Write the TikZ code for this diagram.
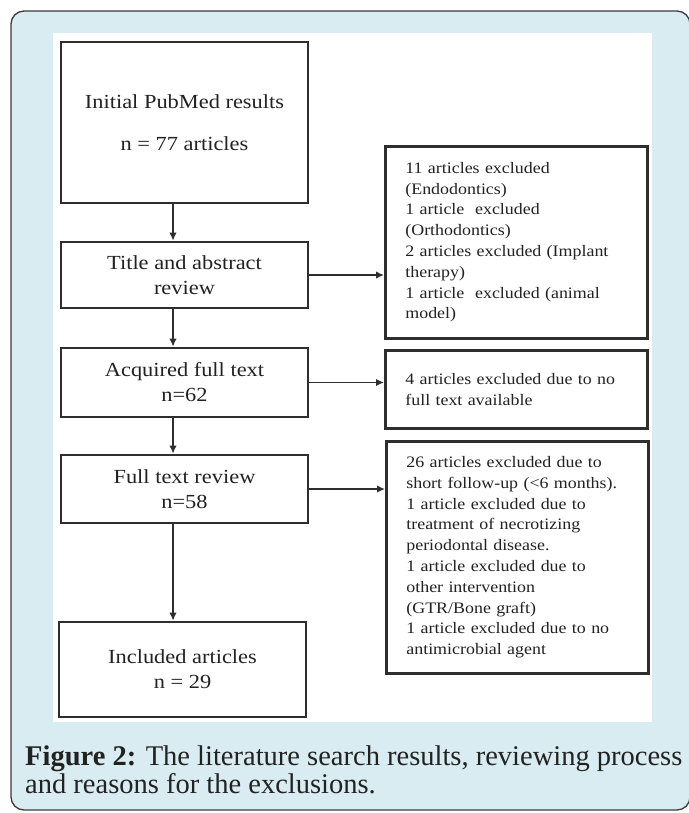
\documentclass[tikz,border=0pt]{standalone}
\usepackage{fontspec}
\usepackage{tikz}
\usetikzlibrary{arrows.meta}
\setmainfont{Liberation Serif}
\newfontfamily\boxfont[FakeStretch=1.12]{Liberation Serif}
\definecolor{framebg}{HTML}{D8ECF1}
\definecolor{framegray}{HTML}{3C3C3C}
\definecolor{boxgray}{HTML}{2E2E2E}
\definecolor{txtgray}{HTML}{222222}

\begin{document}
\begin{tikzpicture}[x=1pt,y=-1pt,
    lbox/.style={draw=boxgray,line width=2.7pt,fill=white,minimum width=247pt,align=center,inner sep=0pt,text=txtgray,font=\boxfont\fontsize{20}{25}\selectfont},
    rbox/.style={draw=boxgray,line width=2.7pt,fill=white,anchor=north west,text width=222pt,inner xsep=20pt,inner ysep=0pt,align=left,text=txtgray,font=\boxfont\fontsize{16}{20.8}\selectfont},
    arr/.style={-{Latex[length=8pt,width=7.5pt]},line width=1.8pt,draw=boxgray}]
    \useasboundingbox (0,0) rectangle (688,813);
    \draw[draw=framegray,line width=1.3pt,fill=framebg,rounded corners=13pt] (11,11) rectangle (690,810);
    \fill[white] (53,33) rectangle (652,722);

    \node[lbox,minimum height=161pt] (initial) at (184.5,122.5) {Initial PubMed results\\[17pt]n = 77 articles};
    \node[lbox,minimum height=66pt] (screen) at (184.5,275) {Title and abstract\\review};
    \node[lbox,minimum height=69pt] (acquired) at (184.5,382.5) {Acquired full text\\n=62};
    \node[lbox,minimum height=68pt] (fulltext) at (184.5,489) {Full text review\\n=58};
    \node[lbox,minimum height=95pt] (included) at (182.5,669.5) {Included articles\\n = 29};

    \node[rbox,minimum height=192pt] (exclA) at (384,145) {11 articles excluded\\(Endodontics)\\1 article\ \ excluded\\(Orthodontics)\\2 articles excluded (Implant\\therapy)\\1 article\ \ excluded (animal\\model)};
    \node[rbox,minimum height=78pt] (exclB) at (384,349) {4 articles excluded due to no\\full text available};
    \node[rbox,minimum height=232pt] (exclC) at (385,440) {26 articles excluded due to\\short follow-up (<6 months).\\1 article excluded due to\\treatment of necrotizing\\periodontal disease.\\1 article excluded due to\\other intervention\\(GTR/Bone graft)\\1 article excluded due to no\\antimicrobial agent};

    \draw[arr] ([xshift=-11.5pt]initial.south) -- ([xshift=-11.5pt]screen.north);
    \draw[arr] ([xshift=-11.5pt]screen.south) -- ([xshift=-11.5pt]acquired.north);
    \draw[arr] ([xshift=-11.5pt]acquired.south) -- ([xshift=-11.5pt]fulltext.north);
    \draw[arr] ([xshift=-11.5pt]fulltext.south) -- ([xshift=-11.5pt]fulltext.south |- included.north);
    \draw[arr] (screen.east) -- (screen.east -| exclA.west);
    \draw[arr] (acquired.east) -- (acquired.east -| exclB.west);
    \draw[arr] (fulltext.east) -- (fulltext.east -| exclC.west);

    \node[anchor=north west,inner sep=0pt,align=left,text=txtgray,font=\fontsize{28.5}{27.8}\selectfont] (caption) at (25,746) {\textbf{Figure 2:} The literature search results, reviewing process\\and reasons for the exclusions.};
\end{tikzpicture}
\end{document}
